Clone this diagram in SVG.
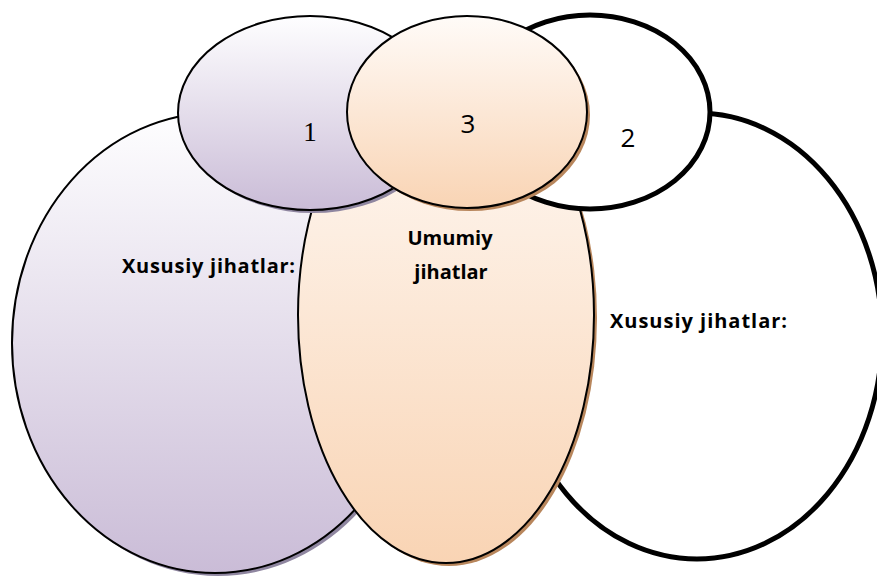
<svg xmlns="http://www.w3.org/2000/svg" width="877" height="576" viewBox="0 0 877 576">
<defs>
<linearGradient id="gPurple" x1="0" y1="0" x2="0" y2="1">
<stop offset="0" stop-color="#fefeff"/>
<stop offset="1" stop-color="#cabcd7"/>
</linearGradient>
<linearGradient id="gOrange" x1="0" y1="0" x2="0" y2="1">
<stop offset="0" stop-color="#fffbf8"/>
<stop offset="1" stop-color="#f9d4b4"/>
</linearGradient>
</defs>
<style>
.thin{stroke:#000;stroke-width:2}
.thick{stroke:#000;stroke-width:5;fill:#fff}
.pshadow{fill:#8f86a0}
.oshadow{fill:#b8865c}
.num-serif{font-family:"Liberation Serif",serif;font-size:27px;fill:#000}
.num-sans{font-family:"Open Sans","Liberation Sans",sans-serif;font-size:26px;fill:#000}
.lbl{font-family:"Open Sans","Liberation Sans",sans-serif;font-weight:700;font-size:20px;fill:#000}
</style>
<g id="big-left">
<ellipse class="pshadow" cx="218" cy="346" rx="203" ry="230"/>
<ellipse class="thin" fill="url(#gPurple)" cx="215" cy="343" rx="203" ry="230"/>
</g>
<g id="big-right">
<ellipse class="thick" cx="697" cy="336" rx="185" ry="223"/>
</g>
<g id="common-tall">
<ellipse class="oshadow" cx="449" cy="318" rx="148" ry="248"/>
<ellipse class="thin" fill="url(#gOrange)" cx="446" cy="315" rx="148" ry="248"/>
</g>
<g id="node-1">
<ellipse class="pshadow" cx="313" cy="116" rx="132" ry="97"/>
<ellipse class="thin" fill="url(#gPurple)" cx="310" cy="113" rx="132" ry="97"/>
</g>
<g id="node-2">
<ellipse class="thick" cx="590" cy="112" rx="120" ry="97"/>
</g>
<g id="node-3">
<ellipse class="oshadow" cx="470" cy="115" rx="120" ry="96"/>
<ellipse class="thin" fill="url(#gOrange)" cx="467" cy="112" rx="120" ry="96"/>
</g>
<g id="labels">
<text class="num-serif" x="310" y="141" text-anchor="middle">1</text>
<text class="num-sans" x="468" y="133" text-anchor="middle">3</text>
<text class="num-sans" x="628" y="147" text-anchor="middle">2</text>
<text class="lbl" x="122" y="273" textLength="173" lengthAdjust="spacing">Xususiy jihatlar:</text>
<text class="lbl" x="450" y="245" text-anchor="middle">Umumiy</text>
<text class="lbl" x="451" y="279" text-anchor="middle">jihatlar</text>
<text class="lbl" x="610" y="328" textLength="177" lengthAdjust="spacing">Xususiy jihatlar:</text>
</g>
</svg>
